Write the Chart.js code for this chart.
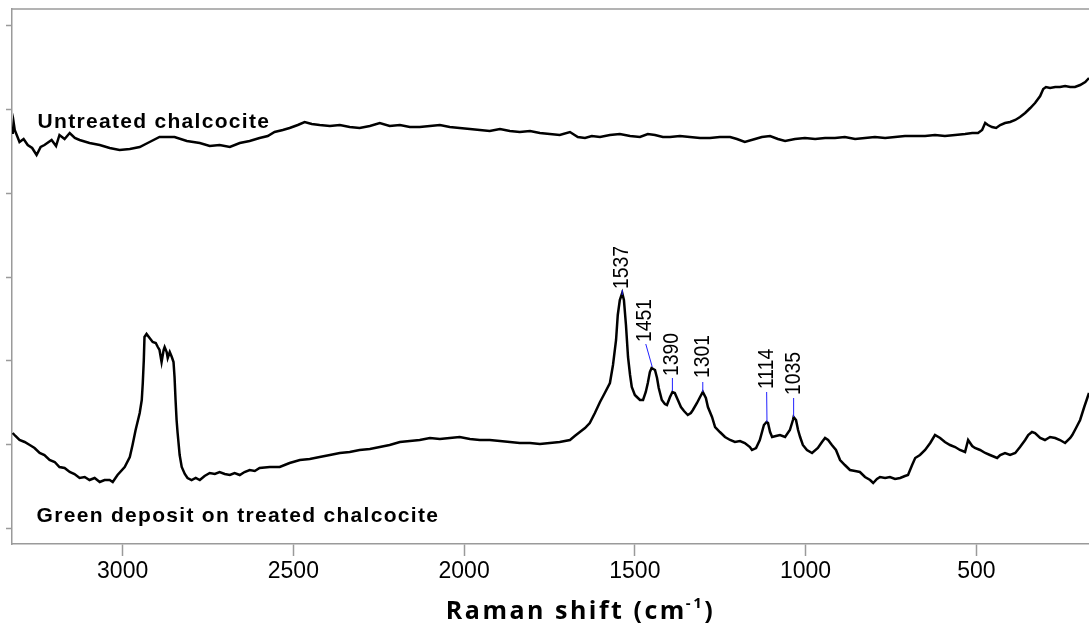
<!DOCTYPE html>
<html>
  <head>
    <script src="https://cdn.jsdelivr.net/npm/chart.js"></script>
    <title>Raman spectra</title>
    <style>
      body {
        margin: 0;
        background-color: white;
      }
      .wrap {
        width: 1089px;
        height: 625px;
      }
    </style>
  </head>
  <body>
    <div class="wrap">
      <canvas id="ramanChart" width="1089" height="625"></canvas>
    </div>

<script>
  // Raman shift (cm-1) and intensity (arbitrary units)
  const untreatedShift = [3322, 3319, 3316, 3302, 3290, 3278, 3265, 3252, 3240, 3229, 3208, 3195, 3185, 3170, 3155, 3140, 3126, 3097, 3067, 3038, 3009, 2979, 2950, 2921, 2892, 2848, 2812, 2774, 2745, 2716, 2686, 2657, 2628, 2599, 2575, 2555, 2531, 2511, 2487, 2467, 2446, 2423, 2393, 2364, 2335, 2306, 2276, 2247, 2218, 2188, 2159, 2130, 2100, 2071, 2042, 2013, 1983, 1954, 1925, 1895, 1866, 1837, 1807, 1778, 1749, 1720, 1690, 1667, 1646, 1626, 1602, 1573, 1544, 1514, 1485, 1462, 1441, 1418, 1397, 1368, 1339, 1309, 1280, 1251, 1221, 1201, 1178, 1148, 1128, 1104, 1081, 1060, 1031, 1002, 972, 943, 914, 885, 855, 826, 797, 767, 738, 709, 679, 650, 621, 592, 562, 533, 512, 495, 483, 474, 466, 454, 442, 430, 416, 401, 386, 372, 357, 342, 328, 313, 304, 296, 284, 269, 255, 240, 225, 211, 196, 181, 170];
  const untreatedIntensity = [410, 421, 414, 402, 405, 399, 396, 389, 397, 399, 404, 398, 409, 405, 411, 406, 404, 401, 399, 396, 394, 395, 397, 402, 407, 407, 403, 401, 398, 399, 397, 401, 403, 406, 408, 412, 414, 416, 419, 422, 420, 419, 418, 419, 417, 416, 418, 421, 418, 419, 417, 417, 418, 419, 417, 416, 415, 414, 413, 415, 413, 412, 413, 411, 410, 409, 412, 407, 406, 408, 407, 409, 410, 408, 407, 410, 409, 407, 407, 408, 407, 406, 406, 407, 407, 405, 402, 405, 407, 408, 405, 403, 405, 406, 405, 406, 406, 407, 405, 406, 407, 406, 407, 408, 408, 408, 409, 408, 409, 410, 411, 411, 414, 421, 419, 417, 416, 419, 421, 422, 424, 427, 431, 436, 441, 448, 455, 457, 456, 457, 457, 458, 457, 457, 459, 462, 466];

  const greenShift = [3322, 3314, 3302, 3287, 3272, 3258, 3243, 3229, 3214, 3199, 3185, 3170, 3155, 3141, 3126, 3111, 3097, 3082, 3067, 3053, 3038, 3029, 3015, 2994, 2979, 2971, 2962, 2950, 2944, 2941, 2938, 2936, 2930, 2921, 2912, 2903, 2897, 2892, 2886, 2880, 2877, 2871, 2868, 2862, 2856, 2851, 2848, 2845, 2842, 2839, 2833, 2827, 2818, 2810, 2798, 2786, 2774, 2760, 2745, 2730, 2716, 2701, 2686, 2672, 2657, 2643, 2628, 2613, 2599, 2569, 2540, 2511, 2481, 2452, 2423, 2393, 2364, 2335, 2306, 2276, 2247, 2218, 2188, 2159, 2130, 2100, 2071, 2042, 2013, 1983, 1954, 1925, 1895, 1866, 1837, 1807, 1778, 1749, 1720, 1690, 1676, 1661, 1646, 1632, 1617, 1602, 1588, 1573, 1564, 1555, 1550, 1544, 1537, 1532, 1526, 1520, 1514, 1509, 1500, 1494, 1485, 1476, 1468, 1462, 1456, 1451, 1441, 1435, 1430, 1421, 1412, 1406, 1397, 1390, 1383, 1374, 1365, 1356, 1345, 1336, 1330, 1318, 1309, 1301, 1292, 1286, 1274, 1265, 1251, 1236, 1221, 1207, 1192, 1178, 1163, 1157, 1145, 1134, 1122, 1114, 1110, 1104, 1098, 1087, 1075, 1060, 1046, 1037, 1035, 1028, 1022, 1016, 1008, 996, 981, 964, 952, 943, 934, 923, 911, 899, 885, 870, 855, 841, 826, 811, 802, 791, 782, 767, 753, 738, 723, 709, 700, 688, 679, 665, 650, 635, 621, 606, 592, 577, 562, 548, 533, 524, 512, 504, 489, 474, 460, 439, 430, 416, 401, 386, 372, 357, 348, 337, 328, 313, 299, 284, 269, 255, 240, 225, 219, 208, 196, 184, 175, 170];
  const greenIntensity = [111, 108, 104, 102, 99, 96, 91, 89, 84, 82, 77, 76, 72, 70, 66, 67, 64, 66, 62, 64, 64, 62, 69, 77, 87, 99, 114, 131, 144, 161, 184, 207, 210, 206, 202, 201, 197, 194, 182, 194, 197, 192, 186, 192, 187, 182, 167, 144, 124, 111, 89, 77, 70, 66, 64, 66, 64, 68, 71, 70, 72, 70, 69, 71, 69, 72, 74, 73, 76, 77, 77, 81, 84, 85, 87, 89, 91, 92, 94, 95, 97, 99, 102, 103, 104, 106, 105, 106, 107, 105, 104, 104, 103, 102, 101, 101, 100, 101, 102, 104, 108, 112, 116, 121, 131, 142, 151, 161, 179, 204, 229, 244, 251, 244, 219, 187, 169, 157, 149, 147, 144, 144, 152, 161, 172, 176, 174, 166, 156, 144, 140, 139, 147, 152, 151, 144, 137, 133, 129, 131, 134, 141, 147, 152, 146, 137, 127, 117, 112, 107, 104, 102, 103, 101, 97, 94, 96, 104, 119, 122, 121, 112, 107, 108, 109, 107, 114, 124, 127, 124, 114, 107, 99, 94, 91, 96, 102, 106, 104, 99, 94, 84, 79, 74, 73, 72, 67, 64, 61, 65, 67, 66, 67, 65, 66, 68, 69, 79, 86, 89, 94, 101, 109, 106, 102, 99, 97, 94, 92, 104, 98, 96, 94, 91, 89, 86, 89, 91, 89, 91, 97, 104, 109, 112, 111, 106, 104, 107, 106, 104, 101, 106, 109, 116, 124, 137, 146, 151];

  const xTickValues = [3000, 2500, 2000, 1500, 1000, 500];
  const yTickValues = [16, 100, 184, 267, 351, 435, 519];

  // peak labels: text, label x (cm-1), label start (intensity), leader line ends
  const peakLabels = ['1537', '1451', '1390', '1301', '1114', '1035'];
  const peakLabelX = [1537, 1471, 1390, 1301, 1114, 1035];
  const peakLabelY = [255, 202, 168, 166, 155, 149];
  const leaderFrom = [[1537, 254], [1468, 200], [1390, 166], [1301, 162], [1114, 152], [1035, 146]];
  const leaderTo = [[1537, 249], [1449, 177], [1390, 153], [1301, 152], [1113, 122], [1035, 127]];

  const traceNames = ['Untreated chalcocite', 'Green deposit on treated chalcocite'];
  const traceNamePos = [[3249, 416], [3252, 22]];

  function toPoints(xs, ys) {
    return xs.map((x, i) => ({ x: x, y: ys[i] }));
  }

  const overlay = {
    id: 'overlay',
    afterDraw(chart) {
      const ctx = chart.ctx;
      const xs = chart.scales.x;
      const ys = chart.scales.y;
      const area = chart.chartArea;

      ctx.save();
      // top frame line
      ctx.strokeStyle = '#9a9a9a';
      ctx.lineWidth = 1.5;
      ctx.beginPath();
      ctx.moveTo(area.left, area.top);
      ctx.lineTo(area.right, area.top);
      ctx.stroke();

      // leader lines
      ctx.strokeStyle = '#2020ff';
      ctx.lineWidth = 1;
      for (let i = 0; i < peakLabels.length; i++) {
        ctx.beginPath();
        ctx.moveTo(xs.getPixelForValue(leaderFrom[i][0]), ys.getPixelForValue(leaderFrom[i][1]));
        ctx.lineTo(xs.getPixelForValue(leaderTo[i][0]), ys.getPixelForValue(leaderTo[i][1]));
        ctx.stroke();
      }

      // rotated peak numbers (slightly condensed like the original)
      ctx.fillStyle = '#000';
      ctx.font = '22px "Liberation Sans", Arial, sans-serif';
      ctx.textAlign = 'left';
      ctx.textBaseline = 'middle';
      for (let i = 0; i < peakLabels.length; i++) {
        ctx.save();
        ctx.translate(xs.getPixelForValue(peakLabelX[i]), ys.getPixelForValue(peakLabelY[i]));
        ctx.rotate(-Math.PI / 2);
        ctx.scale(0.88, 1);
        ctx.fillText(peakLabels[i], 0, 0);
        ctx.restore();
      }

      // trace names
      ctx.font = 'bold 21px "Liberation Sans", Arial, sans-serif';
      ctx.letterSpacing = '1.3px';
      ctx.textBaseline = 'alphabetic';
      for (let i = 0; i < traceNames.length; i++) {
        ctx.fillText(traceNames[i], xs.getPixelForValue(traceNamePos[i][0]), ys.getPixelForValue(traceNamePos[i][1]));
      }

      // axis title with superscript
      ctx.letterSpacing = '2.5px';
      const base = 'Raman shift (cm';
      const sup = '-1';
      const end = ')';
      ctx.font = 'bold 25px "Open Sans", sans-serif';
      const wBase = ctx.measureText(base).width;
      const wEnd = ctx.measureText(end).width;
      ctx.font = 'bold 15px "Open Sans", sans-serif';
      const wSup = ctx.measureText(sup).width;
      const total = wBase + wSup + wEnd;
      let tx = 581 - total / 2;
      const ty = 619;
      ctx.font = 'bold 25px "Open Sans", sans-serif';
      ctx.fillText(base, tx, ty);
      tx += wBase - 1;
      ctx.font = 'bold 15px "Open Sans", sans-serif';
      ctx.fillText(sup, tx, ty - 11);
      tx += wSup;
      ctx.font = 'bold 25px "Open Sans", sans-serif';
      ctx.fillText(end, tx, ty);
      ctx.restore();
    }
  };

  const ctx = document.getElementById('ramanChart').getContext('2d');
  const ramanChart = new Chart(ctx, {
    type: 'line',
    data: {
      datasets: [{
        label: traceNames[0],
        data: toPoints(untreatedShift, untreatedIntensity),
        borderColor: '#000',
        borderWidth: 2.5,
        pointRadius: 0,
        fill: false,
      }, {
        label: traceNames[1],
        data: toPoints(greenShift, greenIntensity),
        borderColor: '#000',
        borderWidth: 2.5,
        pointRadius: 0,
        fill: false,
      }],
    },
    options: {
      responsive: false,
      animation: false,
      layout: { padding: { top: 9, left: 0, right: 0, bottom: 0 } },
      plugins: {
        legend: { display: false },
        tooltip: { enabled: false },
      },
      scales: {
        x: {
          type: 'linear',
          reverse: true,
          min: 170,
          max: 3324,
          afterBuildTicks: (scale) => {
            scale.ticks = xTickValues.map(v => ({ value: v }));
          },
          afterFit: (scale) => { scale.height = 81; },
          ticks: {
            color: '#000',
            padding: 2,
            maxRotation: 0,
            callback: (value) => String(value),
            font: { family: '"Liberation Sans", Arial, sans-serif', size: 23 },
          },
          grid: {
            drawOnChartArea: false,
            drawTicks: true,
            tickLength: 12,
            tickWidth: 1.5,
            tickColor: '#9a9a9a',
          },
          border: { color: '#9a9a9a', width: 1.5 },
        },
        y: {
          min: 0,
          max: 535,
          afterBuildTicks: (scale) => {
            scale.ticks = yTickValues.map(v => ({ value: v }));
          },
          afterFit: (scale) => { scale.width = 12; },
          ticks: { display: false },
          grid: {
            drawOnChartArea: false,
            drawTicks: true,
            tickLength: 6,
            tickWidth: 1.5,
            tickColor: '#9a9a9a',
          },
          border: { color: '#9a9a9a', width: 1.5 },
        },
      },
    },
    plugins: [overlay],
  });
</script>
  </body>
</html>
